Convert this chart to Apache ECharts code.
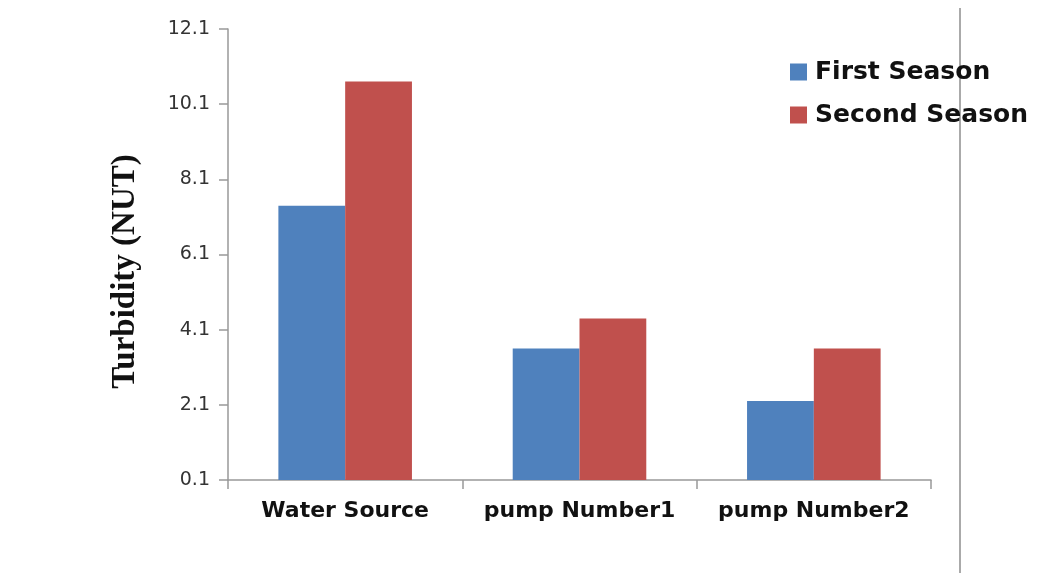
<!DOCTYPE html>
<html>
<head>
<meta charset="utf-8">
<script src="https://cdn.jsdelivr.net/npm/echarts@6/dist/echarts.min.js"></script>
<style>html,body{margin:0;padding:0;background:#fff;}#c{width:1042px;height:573px;}</style>
</head>
<body>
<div id="c"></div>
<script>
var categories = ['Water Source', 'pump Number1', 'pump Number2'];
var firstSeason = [7.4, 3.6, 2.2];
var secondSeason = [10.7, 4.4, 3.6];
var seriesNames = ['First Season', 'Second Season'];
var yMin = 0.1, yMax = 12.1, yStep = 2;

var chart = echarts.init(document.getElementById('c'));
chart.setOption({
  animation: false,
  backgroundColor: '#fff',
  color: ['#4F81BD', '#C0504D'],
  grid: { left: 228, right: 111, top: 29, bottom: 93, containLabel: false },
  legend: {
    left: 790, top: 59, orient: 'vertical', padding: 0,
    itemWidth: 17, itemHeight: 17, itemGap: 17,
    icon: 'rect',
    textStyle: { fontFamily: 'DejaVu Sans', fontWeight: 'bold', fontSize: 25, color: '#111', lineHeight: 26, padding: [0, 0, 0, 3] },
    data: seriesNames
  },
  xAxis: {
    type: 'category', data: categories,
    axisLine: { lineStyle: { color: '#999', width: 1.5 } },
    axisTick: { show: true, interval: 0, length: 9, lineStyle: { color: '#999', width: 1.5 } },
    axisLabel: { interval: 0, margin: 20, fontFamily: 'DejaVu Sans', fontWeight: 'bold', fontSize: 22, color: '#111' }
  },
  yAxis: {
    type: 'value', min: yMin, max: yMax, interval: yStep,
    name: 'Turbidity (NUT)', nameLocation: 'middle', nameGap: 86, nameRotate: 90,
    nameTextStyle: { fontFamily: 'Liberation Serif', fontWeight: 'bold', fontSize: 33, color: '#111', padding: [0, 34, 0, 0] },
    axisLine: { show: true, lineStyle: { color: '#999', width: 1.5 } },
    axisTick: { show: true, length: 9, lineStyle: { color: '#999', width: 1.5 } },
    splitLine: { show: false },
    axisLabel: { margin: 18, fontFamily: 'DejaVu Sans', fontSize: 19, color: '#333',
      formatter: function (v) { return v.toFixed(1); } }
  },
  series: [
    { name: seriesNames[0], type: 'bar', data: firstSeason, barGap: '0%', barCategoryGap: '43%' },
    { name: seriesNames[1], type: 'bar', data: secondSeason, barGap: '0%', barCategoryGap: '43%' }
  ],
  graphic: [
    { type: 'line', shape: { x1: 960, y1: 8, x2: 960, y2: 573 }, style: { stroke: '#aaa', lineWidth: 2 } }
  ]
});
</script>
</body>
</html>
